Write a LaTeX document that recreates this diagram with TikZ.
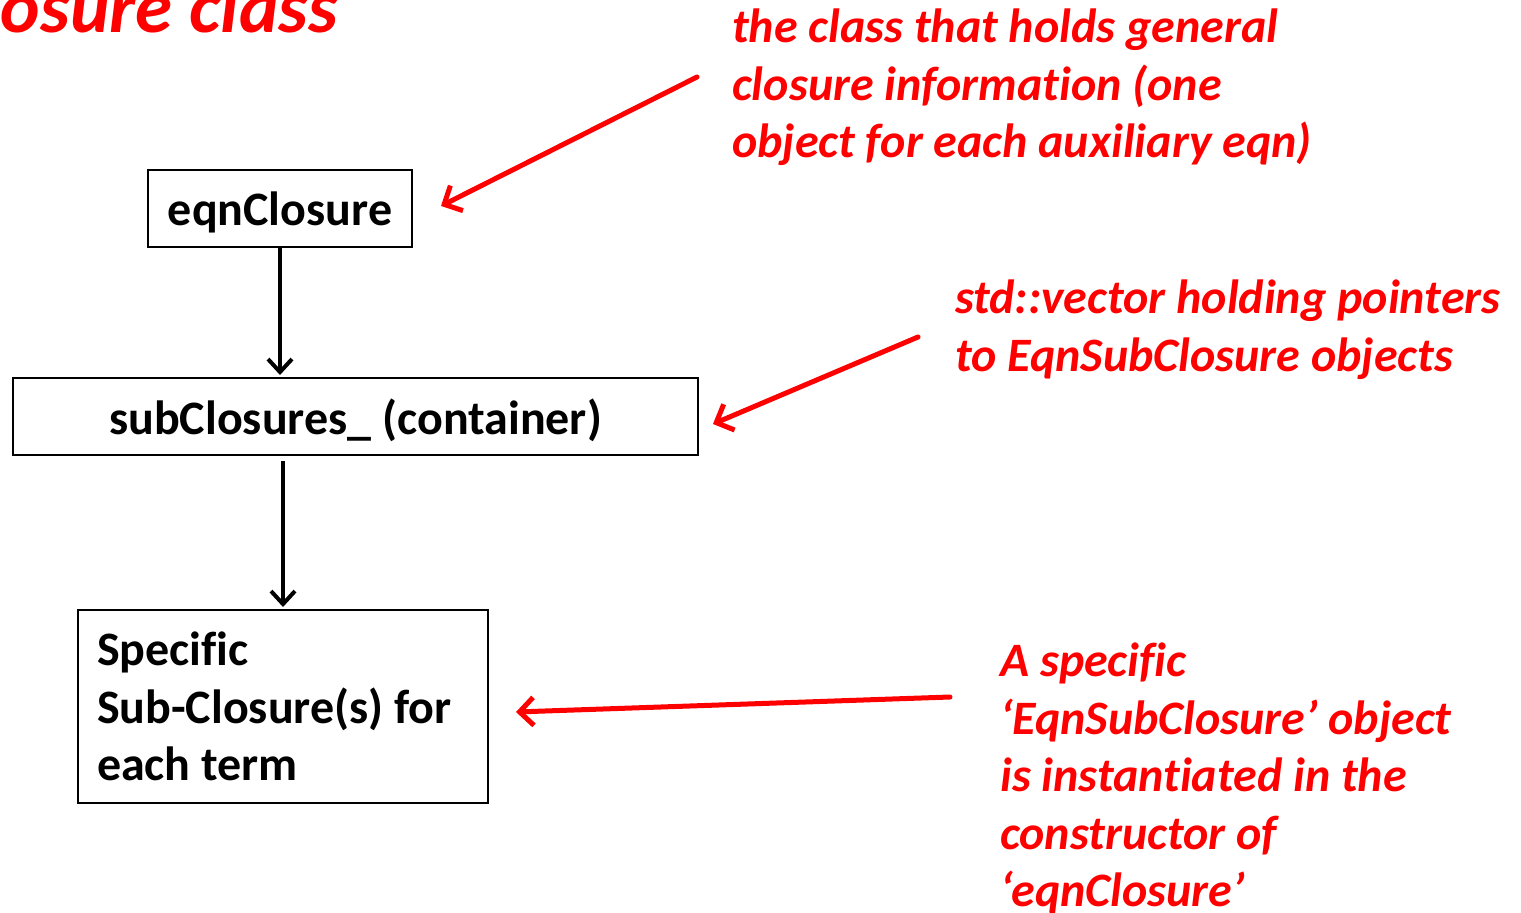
\documentclass[tikz,border=0pt]{standalone}
\usepackage{fontspec}
\setmainfont{Carlito}[Ligatures=NoCommon]
\usetikzlibrary{arrows.meta,calc}
\definecolor{annot}{RGB}{255,0,0}
\begin{document}
\begin{tikzpicture}[x=1pt,y=-1pt,
  box/.style={draw=black, line width=2pt, inner sep=0pt,
    font=\fontsize{48}{57.5}\selectfont\bfseries},
  onelinebox/.style={box, text depth=0pt, minimum height=77pt},
  note/.style={text=annot, inner sep=0pt, align=left,
    font=\fontsize{48}{57.5}\selectfont\bfseries\itshape},
  flow/.style={draw=black, line width=4pt,
    -{Straight Barb[length=13pt,width=24pt]}},
  pointer/.style={draw=annot, line width=5pt, line cap=round,
    -{Straight Barb[length=14pt,width=28pt]}}
]
\useasboundingbox (0,0) rectangle (1521,913);

% heading, running off the top left corner
\node[text=annot, inner sep=0pt, anchor=base east,
  font=\fontsize{75}{75}\selectfont\bfseries\itshape] (title) at (338,32) {eqnClosure class};

% class boxes
\node[onelinebox, minimum width=264pt] (eqn) at (280,208.5) {eqnClosure};
\node[onelinebox, minimum width=685pt] (sub) at (355.5,416.5) {subClosures\_ (container)};
\node[box, minimum width=410pt, minimum height=193pt, text width=372pt, align=flush left]
  (spec) at (283,706.5) {Specific\\Sub-Closure(s) for\\each term};

\draw[flow, shorten >=2pt] (eqn.south) -- (eqn.south |- sub.north);
\draw[flow, shorten <=5pt, shorten >=2pt] (sub.south -| spec.north) -- (spec.north);

% annotations
\node[note, anchor=north west] (n1) at (732,9)
  {the class that holds general\\closure information (one\\object for each auxiliary eqn)};
\node[note, anchor=north west] (n2) at (955,280)
  {std::vector holding pointers\\to EqnSubClosure objects};
\node[note, anchor=north west] (n3) at (1000,643)
  {A specific\\‘EqnSubClosure’ object\\is instantiated in the\\constructor of\\‘eqnClosure’};

\coordinate (a1) at (697,77);
\coordinate (a2) at (918,337);
\coordinate (a3) at (950,697);
\draw[pointer] (a1) -- ($(eqn.east)+(28,-2.5)$);
\draw[pointer] (a2) -- ($(sub.east)+(14,7.5)$);
\draw[pointer] (a3) -- ($(spec.east)+(27,5.5)$);
\end{tikzpicture}
\end{document}
